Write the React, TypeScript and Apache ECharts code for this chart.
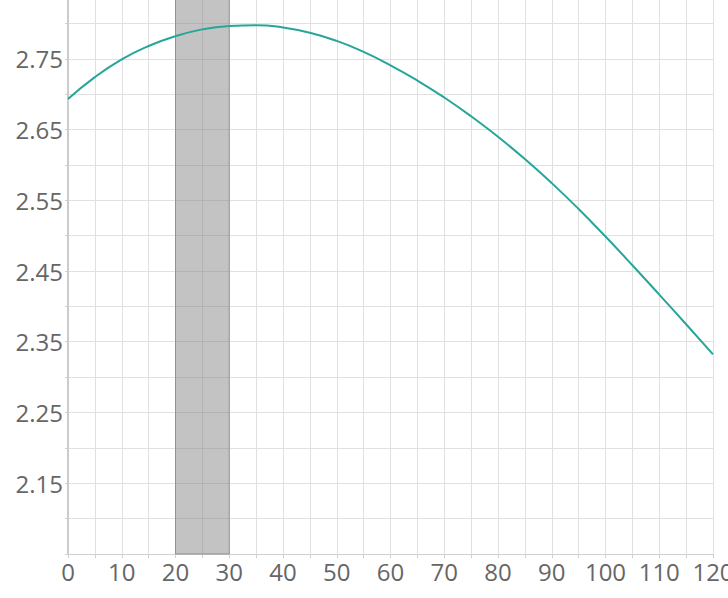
import React, { useEffect, useRef } from "react";
import * as echarts from "echarts";

const xValues = [0, 5, 10, 15, 20, 25, 30, 35, 40, 45, 50, 55, 60, 65, 70, 75, 80, 85, 90, 95, 100, 105, 110, 115, 120];
const yValues = [2.693, 2.724, 2.749, 2.768, 2.782, 2.7915, 2.7963, 2.7975, 2.7942, 2.7867, 2.7752, 2.7597, 2.7407, 2.7192, 2.6952, 2.6687, 2.6397, 2.6082, 2.5742, 2.5377, 2.4987, 2.4582, 2.4167, 2.3747, 2.3322];
const bandRange = [20, 30];
const yMin = 2.05;
const yMax = 2.85;
const yStep = 0.1;
const xMin = 0;
const xMax = 120;
const xStep = 10;

export default function App() {
  const ref = useRef<HTMLDivElement>(null);
  useEffect(() => {
    if (!ref.current) return;
    const chart = echarts.init(ref.current, undefined, { renderer: "svg" });
    const gridColor = "#e0e0e0";
    const labelStyle = { color: "#666", fontFamily: "Open Sans", fontSize: 24 };
    chart.setOption({
      animation: false,
      backgroundColor: "#fff",
      grid: { left: 68, right: 15, top: -12, bottom: 44, containLabel: false, outerBoundsMode: "none" },
      xAxis: {
        type: "value",
        min: xMin,
        max: xMax,
        interval: xStep,
        axisLine: { show: true, lineStyle: { color: "#d0d0d0", width: 1 } },
        axisTick: { show: true, length: 4, lineStyle: { color: "#d0d0d0" } },
        minorTick: { show: true, splitNumber: 2, length: 4, lineStyle: { color: "#d0d0d0" } },
        splitLine: { show: true, lineStyle: { color: gridColor, width: 1 } },
        minorSplitLine: { show: true, lineStyle: { color: gridColor, width: 1 } },
        axisLabel: { ...labelStyle, margin: 5 },
      },
      yAxis: {
        type: "value",
        min: yMin,
        max: yMax,
        interval: yStep,
        axisLine: { show: true, lineStyle: { color: "#cccccc", width: 2 } },
        axisTick: { show: true, length: 3, lineStyle: { color: "#d0d0d0" } },
        minorTick: { show: true, splitNumber: 2, length: 3, lineStyle: { color: "#d0d0d0" } },
        splitLine: { show: true, lineStyle: { color: gridColor, width: 1 } },
        minorSplitLine: { show: true, lineStyle: { color: gridColor, width: 1 } },
        axisLabel: {
          ...labelStyle,
          margin: 5,
          showMinLabel: false,
          showMaxLabel: false,
          formatter: (v: number) => (v < yMin + 0.01 || v > yMax - 0.01 ? "" : v.toFixed(2)),
        },
      },
      series: [
        {
          type: "line",
          data: xValues.map((x, i) => [x, yValues[i]]),
          smooth: true,
          showSymbol: false,
          lineStyle: { color: "#26a69a", width: 2 },
          itemStyle: { color: "#26a69a" },
          markArea: {
            silent: true,
            itemStyle: {
              color: "rgba(128,128,128,0.47)",
              borderColor: "rgba(110,110,110,0.6)",
              borderWidth: 1,
            },
            data: [[{ xAxis: bandRange[0] }, { xAxis: bandRange[1] }]],
          },
        },
      ],
    });
    return () => chart.dispose();
  }, []);
  return <div ref={ref} style={{ width: 728, height: 598, position: "absolute", left: 0, top: 0 }} />;
}
